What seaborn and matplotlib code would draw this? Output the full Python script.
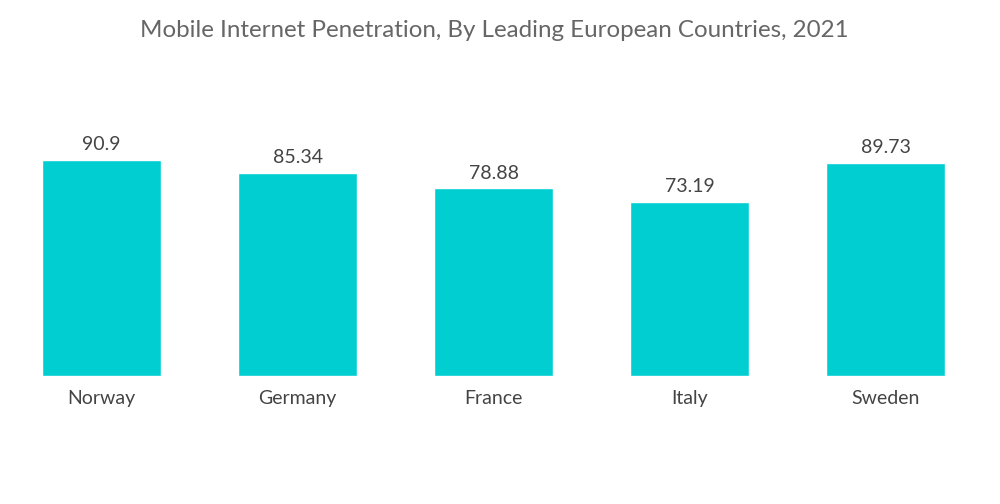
import pandas as pd
import seaborn as sns
import matplotlib.pyplot as plt

paises = ["Norway", "Germany", "France", "Italy", "Sweden"]
penetracao = [90.9, 85.34, 78.88, 73.19, 89.73]
rotulos = ["90.9", "85.34", "78.88", "73.19", "89.73"]

tabela = pd.DataFrame({"pais": paises, "valor": penetracao})

sns.set_style("white")
plt.rcParams["font.family"] = ["Lato", "DejaVu Sans"]

fig = plt.figure(figsize=(10, 5.04), dpi=100)
ax = fig.add_axes([0.0035, 0.254, 0.98, 0.508])

sns.barplot(data=tabela, x="pais", y="valor", color="#00CED1", saturation=1,
            width=0.605, ax=ax)

ax.set_xlim(-0.5, 4.5)
ax.set_ylim(0, 107.7)
for i, (v, r) in enumerate(zip(penetracao, rotulos)):
    ax.text(i, v + 2.8, r, ha="center", va="bottom", fontsize=14, color="#444444")

ax.set_xlabel("")
ax.set_ylabel("")
ax.set_yticks([])
ax.tick_params(axis="x", length=0, labelsize=14, labelcolor="#444444", pad=10)
sns.despine(left=True, bottom=True, top=True, right=True)

fig.text(0.494, 0.94, "Mobile Internet Penetration, By Leading European Countries, 2021",
         ha="center", va="center", fontsize=17.35, color="#666666")

fig.savefig("out.png", dpi=100)
